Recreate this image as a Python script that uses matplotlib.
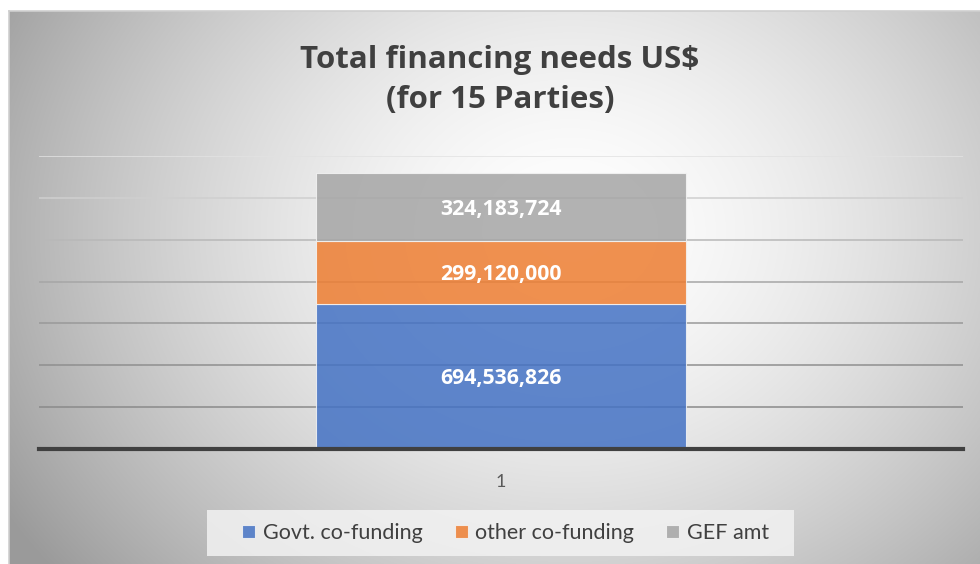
import numpy as np
import matplotlib.pyplot as plt
from matplotlib.patches import Rectangle

# stacked financing components for the single category
categories = ["1"]
series_names = ["Govt. co-funding", "other co-funding", "GEF amt"]
govt = [694536826]
other = [299120000]
gef = [324183724]
colors = ["#4472C4", "#ED7D31", "#A5A5A5"]

plt.rcParams["font.family"] = ["Lato", "DejaVu Sans"]

fig = plt.figure(figsize=(9.8, 5.64), dpi=100)

# chart-area background: soft radial grey gradient with a thin border
bg = fig.add_axes([9 / 980, 0, 1 - 9 / 980, 1 - 11 / 564], zorder=0)
h, w = 553, 971
yy, xx = np.mgrid[0:h, 0:w]
r = np.sqrt(((xx - 560) / 470.0) ** 2 + ((yy - 220) / 390.0) ** 2)
shade = 1 - 0.23 * np.clip(r, 0, 1.4) ** 1.6
bg.imshow(np.dstack([shade] * 3), aspect="auto", extent=[0, 1, 0, 1])
bg.set_xticks([])
bg.set_yticks([])
for side in ["right", "bottom"]:
    bg.spines[side].set_visible(False)
for side in ["top", "left"]:
    bg.spines[side].set_color("#cfcfcf")
    bg.spines[side].set_linewidth(1.2)

ax = fig.add_axes([39 / 980, 1 - 449 / 564, 924 / 980, 293 / 564], zorder=1)
ax.patch.set_alpha(0)
ax.set_xlim(-0.5, 0.5)
ax.set_ylim(0, 1.4e9)

# horizontal gridlines, lighter towards the top
grid_vals = np.arange(2e8, 1.41e9, 2e8)
grid_cols = ["#8a8a8a", "#8f8f8f", "#999999", "#a6a6a6", "#b8b8b8", "#cfcfcf", "#e2e2e2"]
for v, c in zip(grid_vals, grid_cols):
    ax.axhline(v, color=c, lw=1.1, zorder=1)

x = np.arange(len(categories))
bottom = np.zeros(len(categories))
for name, vals, col in zip(series_names, [govt, other, gef], colors):
    ax.bar(x, vals, width=0.4, bottom=bottom, color=col, alpha=0.85,
           edgecolor="#f4f4f4", linewidth=0.8, label=name, zorder=2)
    for xi, b, v in zip(x, bottom, vals):
        ax.text(xi, b + v / 2, f"{v:,}", ha="center", va="center_baseline",
                color="white", fontsize=15.3, fontweight="bold",
                family=["Open Sans", "DejaVu Sans"], zorder=3)
    bottom = bottom + np.array(vals)

ax.axhline(0, color="#404040", lw=3, zorder=4, clip_on=False)
for s in ax.spines.values():
    s.set_visible(False)
ax.set_yticks([])
ax.set_xticks(x)
ax.set_xticklabels(categories, fontsize=13, color="#595959")
ax.tick_params(axis="x", length=0, pad=18)

fig.text(0.51, 1 - 80 / 564, "Total financing needs US$\n(for 15 Parties)",
         ha="center", va="center", fontsize=22.5, fontweight="bold",
         family=["Open Sans", "DejaVu Sans"], color="#404040", linespacing=1.45)

# legend panel behind the entries (between background and plot axes)
fig.patches.append(Rectangle((207 / 980, 1 - 556 / 564), 587 / 980, 46 / 564,
                             transform=fig.transFigure, facecolor="#f2f2f2",
                             edgecolor="none", alpha=0.85, zorder=0.5))
leg = ax.legend(loc="center", bbox_to_anchor=(0.516, 1 - 533 / 564),
                bbox_transform=fig.transFigure, ncol=3, frameon=False,
                fontsize=15.5, handlelength=0.6, handleheight=0.6,
                handletextpad=0.35, columnspacing=1.5, borderpad=0.3)
for t in leg.get_texts():
    t.set_color("#404040")

fig.savefig("out.png", dpi=100)
